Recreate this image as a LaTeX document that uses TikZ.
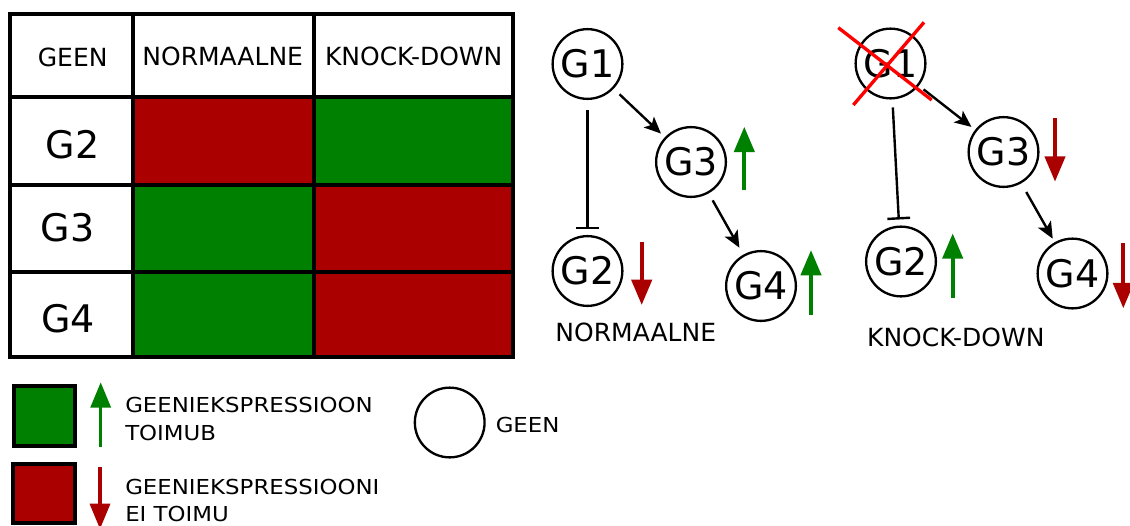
\documentclass[tikz,border=0pt]{standalone}
\usepackage{fontspec}
\setmainfont{DejaVu Sans}
\newfontfamily\legfont{DejaVu Sans}[FakeStretch=1.11]
\usetikzlibrary{arrows.meta}
\definecolor{kred}{HTML}{AA0000}
\definecolor{kgreen}{HTML}{008000}
\definecolor{xred}{HTML}{FF0000}
\begin{document}
\begin{tikzpicture}[x=0.75pt,y=-0.75pt,
  gene/.style={circle,draw,line width=1.75pt,minimum size=52.3pt,inner sep=0pt,font=\fontsize{28.5}{32}\selectfont},
  hdr/.style={anchor=base,inner sep=0pt,font=\fontsize{18.75}{22}\selectfont},
  rowlab/.style={anchor=base,inner sep=0pt,font=\fontsize{28.5}{32}\selectfont},
  leg/.style={anchor=base west,inner sep=0pt,align=left,font=\legfont\fontsize{15.45}{20.5}\selectfont},
  act/.style={line width=1.8pt,-{Stealth[length=12.5pt,width=11pt,inset=3pt]}},
  inh/.style={line width=1.8pt,-{Bar[width=17pt]}},
  upx/.style={kgreen,line width=3.2pt,-{Triangle[length=19pt,width=15pt]}},
  downx/.style={kred,line width=3.2pt,-{Triangle[length=19pt,width=15pt]}},
  legup/.style={kgreen,line width=2.5pt,-{Triangle[length=19pt,width=15pt]}},
  legdown/.style={kred,line width=2.5pt,-{Triangle[length=19pt,width=15pt]}},
  tablegrid/.style={line width=3pt},
  legbox/.style={line width=3pt},
  crossline/.style={xred,line width=2.5pt}
]
\useasboundingbox (0,0) rectangle (1130,525);
\clip (0,0) rectangle (1130,525);

% ---------- table ----------
\fill[kred]   (132.7,96.7) rectangle (314,185);
\fill[kgreen] (314,96.7)   rectangle (512.7,185);
\fill[kgreen] (132.7,185)  rectangle (314,356.7);
\fill[kred]   (314,185)    rectangle (512.7,356.7);
\draw[tablegrid] (10,14.3) rectangle (512.7,356.7);
\draw[tablegrid] (132.7,14.3) -- (132.7,356.7)
                 (314,14.3) -- (314,356.7)
                 (10,96.7) -- (512.7,96.7)
                 (10,185) -- (512.7,185)
                 (10,272.3) -- (512.7,272.3);
\node[hdr] (hgeen) at (72.7,66.5) {GEEN};
\node[hdr] (hnorm) at (222.7,65) {NORMAALNE};
\node[hdr] (hkd)   at (413.7,65.7) {KNOCK-DOWN};
\node[rowlab] (rg2) at (72.5,158.3) {G2};
\node[rowlab] (rg3) at (67.5,241.7) {G3};
\node[rowlab] (rg4) at (68.3,332.7) {G4};

% ---------- normal network ----------
\node[gene] (n1) at (587.5,64) {G1};
\node[gene] (n3) at (691,162) {G3};
\node[gene] (n2) at (587.5,271) {G2};
\node[gene] (n4) at (761,286) {G4};
\draw[act, shorten <=6pt, shorten >=4pt] (n1) -- (n3);
\draw[inh, shorten <=7.5pt, shorten >=4.5pt] (n1) -- (n2);
\draw[act, shorten <=6pt, shorten >=6pt] (n3) -- (n4);
\draw[upx]   (744.3,190) -- (744.3,126.7);
\draw[downx] (641.7,241.7) -- (641.7,305);
\draw[upx]   (811,315) -- (811,250);
\node[hdr] (lnorm) at (635.8,341.7) {NORMAALNE};

% ---------- knock-down network ----------
\node[gene] (k1) at (890.5,63.5) {G1};
\node[gene] (k3) at (1003.5,152) {G3};
\node[gene] (k2) at (901,261.5) {G2};
\node[gene] (k4) at (1072.5,273.5) {G4};
\draw[act, shorten <=4.5pt, shorten >=3.5pt] (k1) -- (k3);
\draw[inh, shorten <=6pt, shorten >=4.5pt] (k1) -- (k2);
\draw[act, shorten <=7.5pt, shorten >=3pt] (k3) -- (k4);
\draw[crossline] (838.3,27.7) -- (931.7,100);
\draw[crossline] (924,22.3) -- (853.3,105);
\draw[downx] (1055,118.3) -- (1055,181.7);
\draw[upx]   (952.7,298.3) -- (952.7,233.3);
\draw[downx] (1123.3,243.3) -- (1123.3,308.3);
\node[hdr] (lkd) at (955.8,346.7) {KNOCK-DOWN};

% ---------- legend ----------
\draw[legbox, fill=kgreen] (14,386) rectangle (75.3,446.3);
\draw[legbox, fill=kred]   (13,464) rectangle (74.7,523.3);
\draw[legup]   (100.7,446.7) -- (100.7,382.3);
\draw[legdown] (100,466.7) -- (100,529);
\node[leg] (legon)  at (125,440) {GEENIEKSPRESSIOON\\TOIMUB};
\node[leg] (legoff) at (125,521.7) {GEENIEKSPRESSIOONI\\EI TOIMU};
\node[gene] (legc) at (449.7,422.5) {};
\node[leg] (leggeen) at (495.5,432.3) {GEEN};
\end{tikzpicture}
\end{document}
